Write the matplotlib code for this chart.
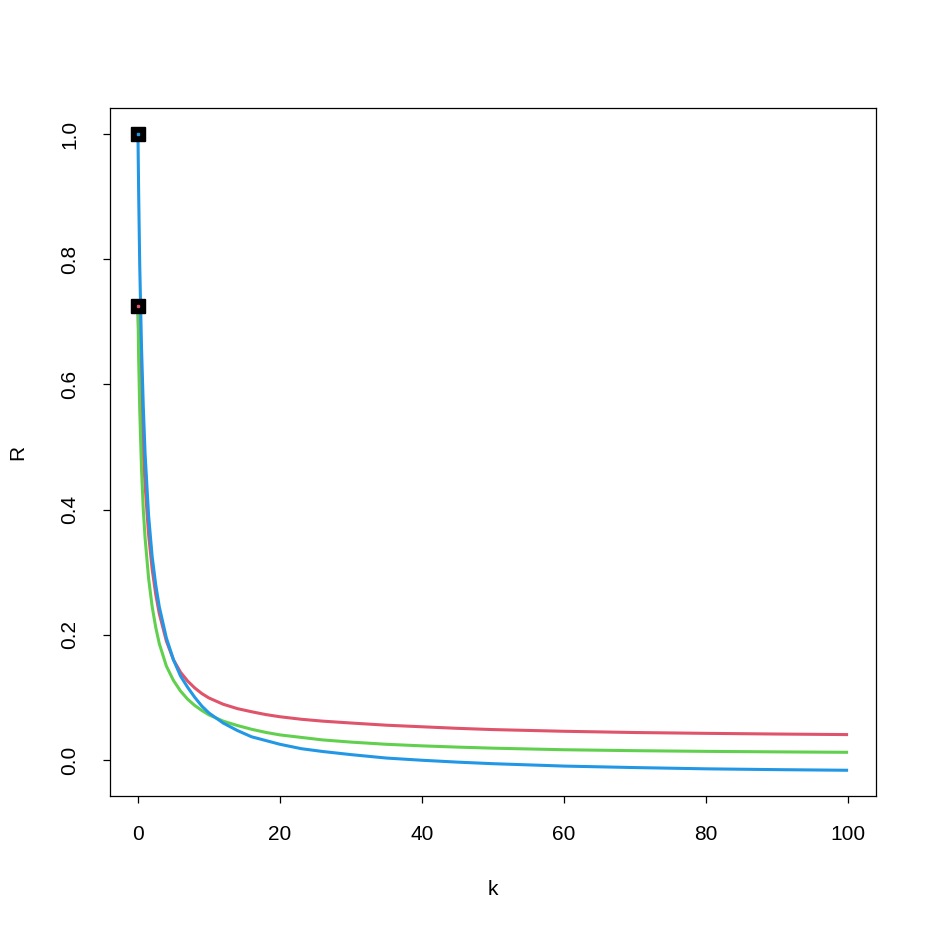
import matplotlib
matplotlib.use("Agg")
import matplotlib.pyplot as plt

k_vals = [0, 0.1, 0.25, 0.5, 0.75, 1, 1.5, 2, 2.5, 3, 4, 5, 6, 7, 8, 9, 10,
          12, 14, 16, 18, 20, 23, 26, 30, 35, 40, 45, 50, 60, 70, 80, 90, 100]
r_red = [0.725, 0.68, 0.625, 0.55, 0.49, 0.44, 0.36, 0.305, 0.265, 0.234,
         0.19, 0.16, 0.14, 0.126, 0.115, 0.106, 0.099, 0.089, 0.082, 0.077,
         0.0725, 0.069, 0.065, 0.062, 0.059, 0.0555, 0.053, 0.0505, 0.0485,
         0.0458, 0.0438, 0.0425, 0.0414, 0.0405]
r_green = [0.725, 0.64, 0.56, 0.465, 0.40, 0.355, 0.29, 0.245, 0.212, 0.186,
           0.150, 0.127, 0.110, 0.097, 0.087, 0.079, 0.072, 0.062, 0.055,
           0.049, 0.044, 0.040, 0.036, 0.032, 0.0285, 0.0250, 0.0225, 0.0205,
           0.0188, 0.0163, 0.0148, 0.0137, 0.0129, 0.0122]
r_blue = [1.0, 0.905, 0.79, 0.66, 0.565, 0.49, 0.39, 0.325, 0.28, 0.245,
          0.195, 0.160, 0.134, 0.116, 0.100, 0.086, 0.075, 0.059, 0.047,
          0.037, 0.031, 0.025, 0.018, 0.0135, 0.0085, 0.003, -0.0005,
          -0.0035, -0.006, -0.0098, -0.0122, -0.0142, -0.0155, -0.0165]
start_k = [0, 0]
start_r = [1.0, 0.725]
start_cols = ["#2297E6", "#DF536B"]

x_ticks = [0, 20, 40, 60, 80, 100]
y_ticks = [0.0, 0.2, 0.4, 0.6, 0.8, 1.0]

plt.rcParams['font.family'] = ['Liberation Sans', 'DejaVu Sans']
fig = plt.figure(figsize=(9.32, 9.32), dpi=100)
ax = fig.add_axes([0.118, 0.146, 0.822, 0.738])

ax.plot(k_vals, r_red, color="#DF536B", lw=2.2, solid_capstyle="butt")
ax.plot(k_vals, r_green, color="#61D04F", lw=2.2, solid_capstyle="butt")
ax.plot(k_vals, r_blue, color="#2297E6", lw=2.2, solid_capstyle="butt")
for kk, rr, cc in zip(start_k, start_r, start_cols):
    ax.plot([kk], [rr], marker="s", ms=10, color="black", zorder=5)
    ax.plot([kk], [rr], marker="s", ms=1.5, color=cc, zorder=6)

ax.set_xlim(-3.94, 103.94)
ax.set_ylim(-0.0575, 1.0415)
ax.set_xticks(x_ticks)
ax.set_xticklabels([str(t) for t in x_ticks])
ax.set_yticks(y_ticks)
ax.set_yticklabels([f"{t:.1f}" for t in y_ticks], rotation=90, va="center")
ax.tick_params(axis="both", labelsize=15, length=5, width=0.9, direction="out")
ax.tick_params(axis="x", pad=16)
ax.tick_params(axis="y", pad=17)
for s in ax.spines.values():
    s.set_linewidth(0.9)
ax.set_xlabel("k", fontsize=15, labelpad=26)
ax.set_ylabel("R", fontsize=15, labelpad=24)

fig.savefig("out.png", dpi=100, facecolor="white")
